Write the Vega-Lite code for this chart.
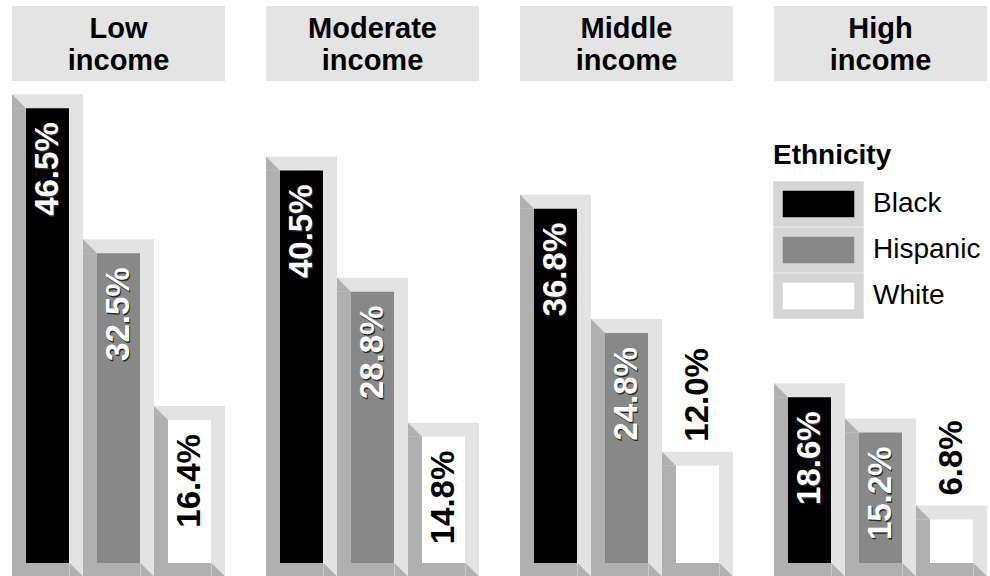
{
  "$schema": "https://vega.github.io/schema/vega-lite/v6.json",
  "padding": {"left": 12, "top": 0, "right": 3, "bottom": 0},
  "autosize": {"type": "pad"},
  "data": {
    "values": [
      {"income": "Low income", "ethnicity": "Black", "share": 0.465},
      {"income": "Low income", "ethnicity": "Hispanic", "share": 0.325},
      {"income": "Low income", "ethnicity": "White", "share": 0.164},
      {"income": "Moderate income", "ethnicity": "Black", "share": 0.405},
      {"income": "Moderate income", "ethnicity": "Hispanic", "share": 0.288},
      {"income": "Moderate income", "ethnicity": "White", "share": 0.148},
      {"income": "Middle income", "ethnicity": "Black", "share": 0.368},
      {"income": "Middle income", "ethnicity": "Hispanic", "share": 0.248},
      {"income": "Middle income", "ethnicity": "White", "share": 0.12},
      {"income": "High income", "ethnicity": "Black", "share": 0.186},
      {"income": "High income", "ethnicity": "Hispanic", "share": 0.152},
      {"income": "High income", "ethnicity": "White", "share": 0.068}
    ]
  },
  "facet": {
    "column": {
      "field": "income",
      "type": "nominal",
      "sort": ["Low income", "Moderate income", "Middle income", "High income"],
      "header": {"labels": false, "labelPadding": 0, "title": null, "titlePadding": 0},
      "title": null
    }
  },
  "spacing": 41,
  "spec": {
    "width": 213,
    "height": 576,
    "layer": [
      {
        "mark": {"type": "bar", "color": "#e3e3e3"},
        "encoding": {
          "x": {"field": "ethnicity", "type": "nominal", "scale": {"domain": ["Black", "Hispanic", "White"], "paddingInner": 0, "paddingOuter": 0}, "axis": null},
          "y": {"field": "share", "type": "quantitative", "scale": {"domain": [0, 0.556], "nice": false}, "axis": null}
        }
      },
      {
        "mark": {"type": "bar", "width": 43, "yOffset": 14},
        "encoding": {
          "x": {"field": "ethnicity", "type": "nominal", "axis": null},
          "y": {"field": "share", "type": "quantitative"},
          "color": {
            "field": "ethnicity",
            "type": "nominal",
            "scale": {"domain": ["Black", "Hispanic", "White"], "range": ["#000000", "#888888", "#ffffff"]},
            "legend": {
              "title": "Ethnicity",
              "orient": "none",
              "legendX": 761,
              "legendY": 142,
              "titleFont": "Liberation Sans",
              "titleFontSize": 28,
              "titleFontWeight": "bold",
              "titleColor": "black",
              "titlePadding": 11,
              "labelFont": "Liberation Sans",
              "labelFontSize": 28,
              "labelColor": "black",
              "labelOffset": 46,
              "symbolType": "M-1,-0.818L2.682,-0.818L2.682,0.818L-1,0.818Z",
              "symbolSize": 1936,
              "symbolStrokeColor": "#d6d6d6",
              "symbolStrokeWidth": 9.5,
              "symbolOpacity": 1,
              "clipHeight": 46,
              "rowPadding": 0
            }
          }
        }
      },
      {
        "mark": {"type": "bar", "width": 14, "xOffset": -28.5, "yOffset": 14, "color": "#b0b0b0"},
        "encoding": {
          "x": {"field": "ethnicity", "type": "nominal", "axis": null},
          "y": {"field": "share", "type": "quantitative"}
        }
      },
      {
        "mark": {"type": "bar", "width": 57, "xOffset": -7, "color": "#b0b0b0"},
        "encoding": {
          "x": {"field": "ethnicity", "type": "nominal", "axis": null},
          "y": {"datum": 0.01255, "type": "quantitative"},
          "y2": {"datum": 0}
        }
      },
      {
        "mark": {"type": "point", "shape": "M-1,-1L-1,1L1,1Z", "size": 196, "filled": true, "opacity": 1, "strokeWidth": 0, "color": "#b0b0b0", "xOffset": -28.5, "yOffset": 7},
        "encoding": {
          "x": {"field": "ethnicity", "type": "nominal", "axis": null},
          "y": {"field": "share", "type": "quantitative"}
        }
      },
      {
        "mark": {"type": "point", "shape": "M-1,-1L-1,1L1,1Z", "size": 169, "filled": true, "opacity": 1, "strokeWidth": 0, "color": "#b0b0b0", "xOffset": 28.5},
        "encoding": {
          "x": {"field": "ethnicity", "type": "nominal", "axis": null},
          "y": {"datum": 0.00627, "type": "quantitative"}
        }
      },
      {
        "transform": [{"filter": "datum.ethnicity === 'Black'"}],
        "mark": {"type": "rect", "color": "#e4e4e4"},
        "encoding": {
          "y": {"datum": 0.5502, "type": "quantitative"},
          "y2": {"datum": 0.4778}
        }
      },
      {
        "transform": [{"filter": "datum.ethnicity === 'Black'"}],
        "mark": {"type": "text", "font": "Liberation Sans", "fontWeight": "bold", "fontSize": 29, "lineBreak": " ", "lineHeight": 32, "baseline": "alphabetic", "align": "center", "color": "black"},
        "encoding": {
          "y": {"datum": 0.5193, "type": "quantitative"},
          "text": {"field": "income", "type": "nominal"}
        }
      },
      {
        "transform": [{"filter": "datum.share >= 0.13 && datum.ethnicity !== 'White'"}],
        "mark": {"type": "text", "angle": 270, "align": "right", "baseline": "middle", "font": "Liberation Sans", "fontWeight": "bold", "fontSize": 33, "color": "#2a2a2a", "xOffset": 1.5, "yOffset": 29.5},
        "encoding": {
          "x": {"field": "ethnicity", "type": "nominal", "axis": null},
          "y": {"field": "share", "type": "quantitative"},
          "text": {"field": "share", "type": "quantitative", "format": ".1%"}
        }
      },
      {
        "transform": [{"filter": "datum.share >= 0.13 && datum.ethnicity !== 'White'"}],
        "mark": {"type": "text", "angle": 270, "align": "right", "baseline": "middle", "font": "Liberation Sans", "fontWeight": "bold", "fontSize": 33, "color": "white", "yOffset": 28},
        "encoding": {
          "x": {"field": "ethnicity", "type": "nominal", "axis": null},
          "y": {"field": "share", "type": "quantitative"},
          "text": {"field": "share", "type": "quantitative", "format": ".1%"}
        }
      },
      {
        "transform": [{"filter": "datum.share >= 0.13 && datum.ethnicity === 'White'"}],
        "mark": {"type": "text", "angle": 270, "align": "right", "baseline": "middle", "font": "Liberation Sans", "fontWeight": "bold", "fontSize": 33, "color": "black", "yOffset": 28},
        "encoding": {
          "x": {"field": "ethnicity", "type": "nominal", "axis": null},
          "y": {"field": "share", "type": "quantitative"},
          "text": {"field": "share", "type": "quantitative", "format": ".1%"}
        }
      },
      {
        "transform": [{"filter": "datum.share < 0.13"}],
        "mark": {"type": "text", "angle": 270, "align": "left", "baseline": "middle", "font": "Liberation Sans", "fontWeight": "bold", "fontSize": 33, "yOffset": -10, "color": "black"},
        "encoding": {
          "x": {"field": "ethnicity", "type": "nominal", "axis": null},
          "y": {"field": "share", "type": "quantitative"},
          "text": {"field": "share", "type": "quantitative", "format": ".1%"}
        }
      }
    ]
  },
  "config": {
    "view": {"stroke": null}
  }
}
